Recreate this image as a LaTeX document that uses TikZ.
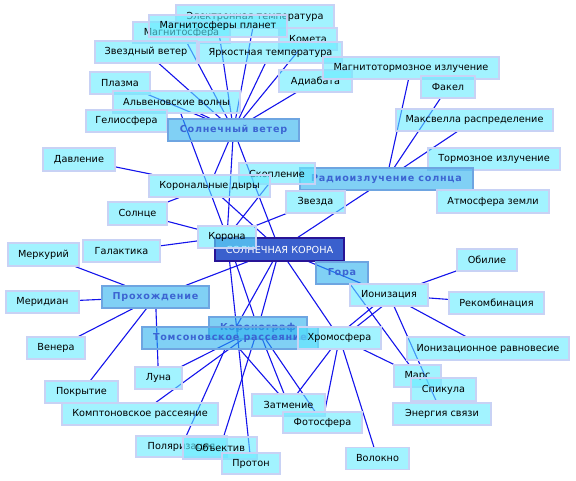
\documentclass[tikz,border=0pt]{standalone}
\usepackage{fontspec}
\setmainfont{DejaVu Sans}
\newfontfamily\hubfont{DejaVu Sans}[LetterSpace=8]
\usetikzlibrary{backgrounds}
\definecolor{cfill}{RGB}{100,235,255}
\definecolor{cdraw}{RGB}{200,210,245}
\definecolor{hfill}{RGB}{43,177,238}
\definecolor{hdraw}{RGB}{110,165,225}
\definecolor{htext}{RGB}{60,100,210}
\definecolor{kfill}{RGB}{58,96,205}
\definecolor{kdraw}{RGB}{40,20,150}
\definecolor{edgec}{RGB}{20,20,235}
\tikzset{
 base/.style={rectangle, inner sep=0pt, minimum height=22pt, font=\fontsize{9.7}{11}\selectfont, line width=1.2pt},
 cbox/.style={base, fill=cfill, fill opacity=0.6, text opacity=1, draw=cdraw},
 hbox/.style={base, fill=hfill, fill opacity=0.6, text opacity=1, draw=hdraw, text=htext, font=\fontsize{9.6}{11}\hubfont\bfseries},
 kbox/.style={base, fill=kfill, draw=kdraw, text=white},
 link/.style={draw=edgec, line width=1.1pt},
}
\begin{document}
\begin{tikzpicture}[x=1pt,y=-1pt]
\useasboundingbox (0,0) rectangle (576,481);
\node[cbox,minimum width=158pt,minimum height=23pt] (elt) at (255,16.5) {Электронная температура};
\node[cbox,minimum width=58pt] (kom) at (308,39) {Комета};
\node[cbox,minimum width=97pt,minimum height=21pt] (mag) at (181.5,32.5) {Магнитосфера};
\node[cbox,minimum width=138pt] (mpl) at (218,26) {Магнитосферы планет};
\node[cbox,minimum width=143pt,minimum height=21pt] (yat) at (270.5,52.5) {Яркостная температура};
\node[cbox,minimum width=102pt] (zv) at (146,52) {Звездный ветер};
\node[cbox,minimum width=73pt] (adi) at (315.5,81) {Адиабата};
\node[cbox,minimum width=176pt] (mti) at (411,68) {Магнитотормозное излучение};
\node[cbox,minimum width=54pt] (fak) at (448,87) {Факел};
\node[cbox,minimum width=157pt] (max) at (474.5,120) {Максвелла распределение};
\node[cbox,minimum width=132pt] (tor) at (494,159) {Тормозное излучение};
\node[hbox,minimum width=173pt] (rad) at (386.5,179) {Радиоизлучение солнца};
\node[cbox,minimum width=76pt,minimum height=21pt] (sko) at (277,173.5) {Скопление};
\node[cbox,minimum width=112pt,minimum height=23pt] (atm) at (493,201.5) {Атмосфера земли};
\node[cbox,minimum width=59pt] (zvz) at (315.5,202) {Звезда};
\node[cbox,minimum width=60pt] (plz) at (120,83) {Плазма};
\node[cbox,minimum width=127pt] (alv) at (176.5,102) {Альвеновские волны};
\node[cbox,minimum width=81pt] (hel) at (126.5,121) {Гелиосфера};
\node[hbox,minimum width=131pt] (sv) at (233.5,130) {Солнечный ветер};
\node[cbox,minimum width=72pt,minimum height=23pt] (dav) at (79,159.5) {Давление};
\node[cbox,minimum width=121pt] (kd) at (209.5,186) {Корональные дыры};
\node[cbox,minimum width=59pt,minimum height=23pt] (sol) at (137.5,213.5) {Солнце};
\node[kbox,minimum width=129pt,minimum height=23pt] (sk) at (279.5,249.5) {СОЛНЕЧНАЯ КОРОНА};
\node[cbox,minimum width=58pt] (kor) at (227,237) {Корона};
\node[cbox,minimum width=77pt] (gal) at (121.5,251) {Галактика};
\node[cbox,minimum width=71pt,minimum height=23pt] (mer) at (43.5,254.5) {Меркурий};
\node[hbox,minimum width=52pt] (gor) at (342,273) {Гора};
\node[cbox,minimum width=60pt] (obi) at (487,260) {Обилие};
\node[cbox,minimum width=78pt] (ion) at (389,295) {Ионизация};
\node[cbox,minimum width=95pt] (rek) at (496.5,303) {Рекомбинация};
\node[cbox,minimum width=162pt,minimum height=23pt] (ire) at (488,348.5) {Ионизационное равновесие};
\node[hbox,minimum width=107pt] (prh) at (155.5,297) {Прохождение};
\node[cbox,minimum width=73pt] (mrd) at (42.5,302) {Меридиан};
\node[cbox,minimum width=58pt] (ven) at (56,348) {Венера};
\node[hbox,minimum width=98pt] (krg) at (258,328) {Коронограф};
\node[hbox,minimum width=176pt] (tom) at (230,338) {Томсоновское рассеяние};
\node[cbox,minimum width=83pt] (xro) at (339.5,338) {Хромосфера};
\node[cbox,minimum width=47pt] (lun) at (158.5,378) {Луна};
\node[cbox,minimum width=73pt] (pok) at (81.5,392) {Покрытие};
\node[cbox,minimum width=156pt] (kmp) at (140,414) {Комптоновское рассеяние};
\node[cbox,minimum width=91pt,minimum height=21pt] (pol) at (181.5,446.5) {Поляризация};
\node[cbox,minimum width=74pt] (obj) at (220,448) {Объектив};
\node[cbox,minimum width=58pt,minimum height=21pt] (pro) at (251,463.5) {Протон};
\node[cbox,minimum width=73pt] (zat) at (288.5,405) {Затмение};
\node[cbox,minimum width=79pt,minimum height=21pt] (fot) at (322.5,422.5) {Фотосфера};
\node[cbox,minimum width=63pt] (vol) at (377.5,458.5) {Волокно};
\node[cbox,minimum width=47pt] (mar) at (417.5,376) {Марс};
\node[cbox,minimum width=65pt,minimum height=23pt] (spi) at (443.5,389.5) {Спикула};
\node[cbox,minimum width=98pt] (ens) at (442,414) {Энергия связи};
\begin{scope}[on background layer]
\foreach \a/\b in {sv/zv, sv/mag, sv/mpl, sv/elt, sv/yat, sv/kom, sv/adi, sv/plz, sv/alv, sv/hel, sv/kd, sv/kor, sv/sk,
  alv/kor, rad/mti, rad/fak, rad/max, rad/atm, rad/sk,
  dav/kd, sol/kd, kd/sk, kor/sol, kor/gal, kor/sko, kor/zvz, kor/krg, kor/pro,
  sk/prh, sk/krg, sk/tom, sk/xro, sk/ion, gor/mar,
  ion/obi, ion/rek, ion/ire, ion/ens,
  xro/zat, xro/fot, xro/vol, xro/mar,
  prh/mer, prh/mrd, prh/ven, prh/pok, prh/lun,
  krg/lun, krg/kmp, krg/obj, krg/zat, krg/fot,
  tom/pol, tom/zat}
  \draw[link] (\a) -- (\b);
\draw[link] ([xshift=-16pt]ion.south) -- ([xshift=9.5pt]xro.north);
\draw[link] ([xshift=-7pt]ion.south) -- ([xshift=17.5pt]xro.north);
\end{scope}
\end{tikzpicture}
\end{document}
